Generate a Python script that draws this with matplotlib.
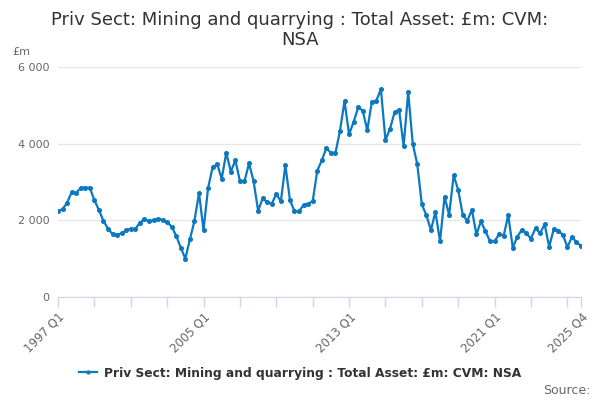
import matplotlib
matplotlib.use('Agg')
import matplotlib.pyplot as plt
from matplotlib.ticker import FuncFormatter

title = 'Priv Sect: Mining and quarrying : Total Asset: £m: CVM:\nNSA'
series_name = 'Priv Sect: Mining and quarrying : Total Asset: £m: CVM: NSA'

# quarterly values, 1997 Q1 .. 2025 Q4
values = [
    2243, 2288, 2461, 2730, 2713, 2852, 2852, 2852,   # 1997-1998
    2522, 2270, 1983, 1783, 1635, 1626, 1661, 1739,   # 1999-2000
    1783, 1774, 1939, 2026, 1974, 2009, 2043, 2009,   # 2001-2002
    1957, 1835, 1591, 1287, 1000, 1505, 1983, 2713,   # 2003-2004
    1748, 2843, 3383, 3465, 3087, 3765, 3270, 3565,   # 2005-2006
    3026, 3017, 3487, 3026, 2252, 2574, 2470, 2434,   # 2007-2008
    2687, 2496, 3435, 2530, 2235, 2235, 2400, 2434,   # 2009-2010
    2496, 3287, 3565, 3878, 3765, 3757, 4330, 5113,   # 2011-2012
    4243, 4565, 4945, 4865, 4348, 5087, 5122, 5420,   # 2013-2014
    4096, 4383, 4817, 4887, 3939, 5348, 4000, 3461,   # 2015-2016
    2418, 2130, 1748, 2217, 1452, 2617, 2139, 3174,   # 2017-2018
    2791, 2148, 1983, 2278, 1635, 1974, 1713, 1452,   # 2019-2020
    1452, 1643, 1600, 2130, 1287, 1574, 1757, 1661,   # 2021-2022
    1522, 1800, 1661, 1896, 1313, 1765, 1722, 1626,   # 2023-2024
    1304, 1557, 1435, 1330,                           # 2025
]
quarters = [f'{1997 + i // 4} Q{i % 4 + 1}' for i in range(len(values))]
labelled = ['1997 Q1', '2005 Q1', '2013 Q1', '2021 Q1', '2025 Q4']
y_ticks = [0, 2000, 4000, 6000]

line_colour = '#0b78c2'
text_colour = '#333333'
axis_text = '#666666'

fig = plt.figure(figsize=(6, 4), dpi=100)
ax = fig.add_axes([58 / 600, 1 - 297 / 400, 523 / 600, 230 / 400])

x = list(range(len(values)))
ax.plot(x, values, color=line_colour, linewidth=1.6, marker='o', markersize=2.6,
        label=series_name, zorder=3)

ax.set_xlim(0, len(values) - 1)
ax.set_ylim(0, 6000)
ax.set_yticks(y_ticks)
ax.yaxis.set_major_formatter(FuncFormatter(lambda v, p: f'{int(v):,}'.replace(',', ' ')))
ax.grid(axis='y', color='#e6e6e6', linewidth=1)
ax.set_axisbelow(True)

tick_pos = list(range(0, len(values), 8)) + [len(values) - 1]
ax.set_xticks(tick_pos)
ax.set_xticklabels([quarters[i] if quarters[i] in labelled else '' for i in tick_pos],
                   rotation=45, ha='right', rotation_mode='anchor')

for side in ['top', 'right', 'left']:
    ax.spines[side].set_visible(False)
ax.spines['bottom'].set_color('#ccd6eb')
ax.tick_params(axis='x', colors='#ccd6eb', length=7.5, width=1, labelcolor=axis_text,
               labelsize=8.5, pad=2)
ax.tick_params(axis='y', length=0, labelcolor=axis_text, labelsize=8, pad=6)

fig.text(0.5, 1 - 30 / 400, title, ha='center', va='center', fontsize=13,
         color=text_colour, linespacing=1.15)
fig.text(12 / 600, 1 - 52 / 400, '£m', ha='left', va='center', fontsize=8, color=axis_text)

fig.legend(loc='center', bbox_to_anchor=(0.5, 1 - 373 / 400), frameon=False,
           prop={'weight': 'bold', 'size': 8.8}, labelcolor=text_colour,
           handlelength=1.5, handletextpad=0.6, markerscale=0.8)
fig.text(590 / 600, 1 - 390 / 400, 'Source:', ha='right', va='center', fontsize=9,
         color=axis_text)

fig.savefig('out.png', dpi=100)
